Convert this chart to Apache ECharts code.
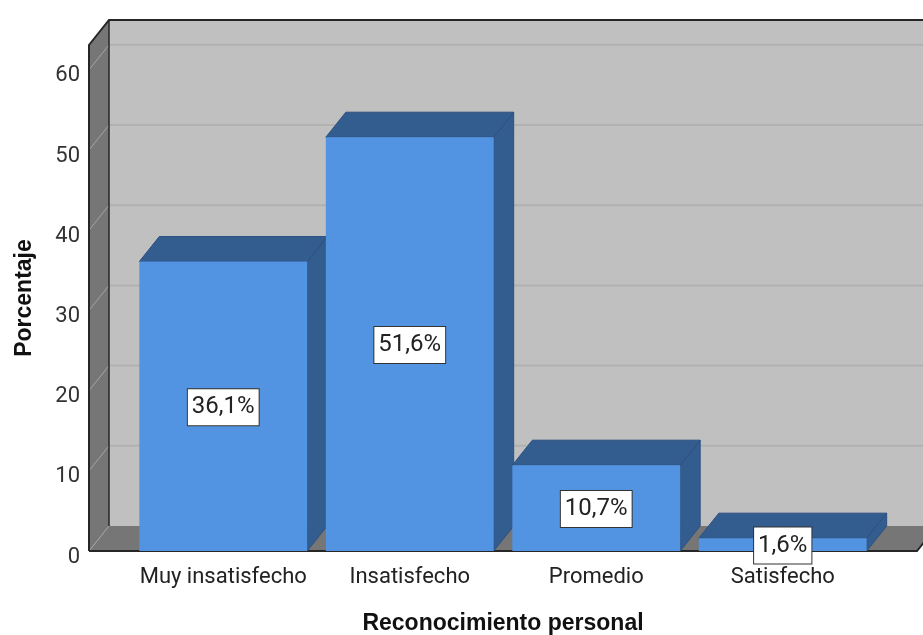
<!DOCTYPE html>
<html><head><meta charset="utf-8">
<script src="https://cdn.jsdelivr.net/npm/echarts@6/dist/echarts.min.js"></script>
<style>html,body{margin:0;padding:0;background:#fff}#c{width:923px;height:635px}</style>
</head><body><div id="c"></div>
<script>
const categories = ['Muy insatisfecho', 'Insatisfecho', 'Promedio', 'Satisfecho'];
const percentages = [36.1, 51.6, 10.7, 1.6];
const yTicks = [0, 10, 20, 30, 40, 50, 60];
const yMax = 63.1;
const xTitle = 'Reconocimiento personal';
const yTitle = 'Porcentaje';

const DX = 20, DY = -25;
const EXTRA = 60;

const chart = echarts.init(document.getElementById('c'), null, { renderer: 'canvas' });

function wallsItem(params, api) {
  const fl = api.coord([0, 0]), fr = api.coord([1, 0]);
  const tl = api.coord([0, yMax]);
  const children = [];
  const dark = '#767676', back = '#c0c0c0';
  children.push({ type: 'polygon', shape: { points: [
    [tl[0] + DX, tl[1] + DY], [fr[0] + DX + EXTRA, tl[1] + DY],
    [fr[0] + DX + EXTRA, fl[1] + DY], [fl[0] + DX, fl[1] + DY]] },
    style: { fill: back } });
  children.push({ type: 'polygon', shape: { points: [
    [fl[0], fl[1]], [fr[0], fr[1]], [fr[0] + DX, fr[1] + DY], [fl[0] + DX, fl[1] + DY]] },
    style: { fill: dark } });
  children.push({ type: 'polygon', shape: { points: [
    [tl[0], tl[1]], [tl[0] + DX, tl[1] + DY], [fl[0] + DX, fl[1] + DY], [fl[0], fl[1]]] },
    style: { fill: dark } });
  yTicks.forEach(function (v) {
    const p = api.coord([0, v]);
    if (v > 0) {
      children.push({ type: 'line', shape: { x1: p[0] + DX, y1: p[1] + DY, x2: fr[0] + DX + EXTRA, y2: p[1] + DY },
        style: { stroke: '#b1b1b1', lineWidth: 2 } });
    }
    children.push({ type: 'line', shape: { x1: p[0], y1: p[1], x2: p[0] + DX, y2: p[1] + DY },
      style: { stroke: '#a4a4a4', lineWidth: 1 } });
  });
  children.push({ type: 'polyline', shape: { points: [
    [fl[0], fl[1]], [tl[0], tl[1]], [tl[0] + DX, tl[1] + DY], [fr[0] + DX + EXTRA, tl[1] + DY]] },
    style: { stroke: '#262626', lineWidth: 2, fill: null } });
  children.push({ type: 'line', shape: { x1: tl[0] + DX, y1: tl[1] + DY, x2: fl[0] + DX, y2: fl[1] + DY },
    style: { stroke: '#262626', lineWidth: 1.5 } });
  children.push({ type: 'polyline', shape: { points: [
    [fl[0], fl[1]], [fr[0], fr[1]], [fr[0] + DX, fr[1] + DY]] },
    style: { stroke: '#262626', lineWidth: 2, fill: null } });
  return { type: 'group', children: children };
}

function barItem(params, api) {
  const ci = api.value(0), v = api.value(1);
  const t = api.coord([ci, v]), b = api.coord([ci, 0]);
  const w = api.size([1, 0])[0] * 0.9;
  const x0 = t[0] - w / 2, x1 = t[0] + w / 2;
  const yt = t[1], yb = b[1];
  const dark = '#335c8f';
  return { type: 'group', children: [
    { type: 'polygon', shape: { points: [[x1, yt], [x1 + DX, yt + DY], [x1 + DX, yb + DY], [x1, yb]] },
      style: { fill: dark, stroke: '#2c5180', lineWidth: 1 } },
    { type: 'polygon', shape: { points: [[x0, yt], [x0 + DX, yt + DY], [x1 + DX, yt + DY], [x1, yt]] },
      style: { fill: dark, stroke: '#2c5180', lineWidth: 1 } },
    { type: 'rect', shape: { x: x0, y: yt, width: w, height: yb - yt },
      style: { fill: '#5294e2' } },
    { type: 'text', x: t[0], y: (yt + yb) / 2 + 1, z2: 100,
      style: { text: v.toFixed(1).replace('.', ',') + '%', font: '24px Roboto', fill: '#222',
        align: 'center', verticalAlign: 'middle', backgroundColor: '#fff',
        borderColor: '#333', borderWidth: 1, padding: [7, 4, 5, 4] } }
  ] };
}

const option = {
  animation: false,
  backgroundColor: '#fff',
  grid: [
    { left: 89, right: 6, top: 45, bottom: 84, outerBoundsMode: 'none', containLabel: false },
    { left: 130, right: 47, top: 45, bottom: 84, outerBoundsMode: 'none', containLabel: false }
  ],
  xAxis: [
    { gridIndex: 0, type: 'value', min: 0, max: 1, show: false },
    { gridIndex: 1, type: 'category', data: categories,
      axisLine: { show: false }, axisTick: { show: false },
      axisLabel: { interval: 0, fontFamily: 'Roboto', fontSize: 22, color: '#222', margin: 15 },
      name: xTitle, nameLocation: 'middle', nameGap: 61,
      nameTextStyle: { fontFamily: 'Liberation Sans', fontWeight: 'bold', fontSize: 23, color: '#111' } }
  ],
  yAxis: [
    { gridIndex: 0, type: 'value', min: 0, max: yMax, interval: 10,
      axisLine: { show: false }, axisTick: { show: false }, splitLine: { show: false },
      axisLabel: { fontFamily: 'Roboto', fontSize: 22, color: '#333', margin: 9,
        verticalAlign: 'top', lineHeight: 12, showMaxLabel: false,
        formatter: function (v) { return yTicks.indexOf(v) >= 0 ? String(v) : ''; } },
      name: yTitle, nameLocation: 'middle', nameGap: 53, nameRotate: 90,
      nameTextStyle: { fontFamily: 'Liberation Sans', fontWeight: 'bold', fontSize: 23, color: '#111' } },
    { gridIndex: 1, type: 'value', min: 0, max: yMax, show: false }
  ],
  series: [
    { type: 'custom', xAxisIndex: 0, yAxisIndex: 0, data: [[0, 0]], renderItem: wallsItem, clip: false, silent: true, z: 1 },
    { type: 'custom', xAxisIndex: 1, yAxisIndex: 1, data: percentages.map(function (p, i) { return [i, p]; }),
      renderItem: barItem, clip: false, silent: true, z: 2 }
  ]
};
chart.setOption(option);
</script></body></html>
